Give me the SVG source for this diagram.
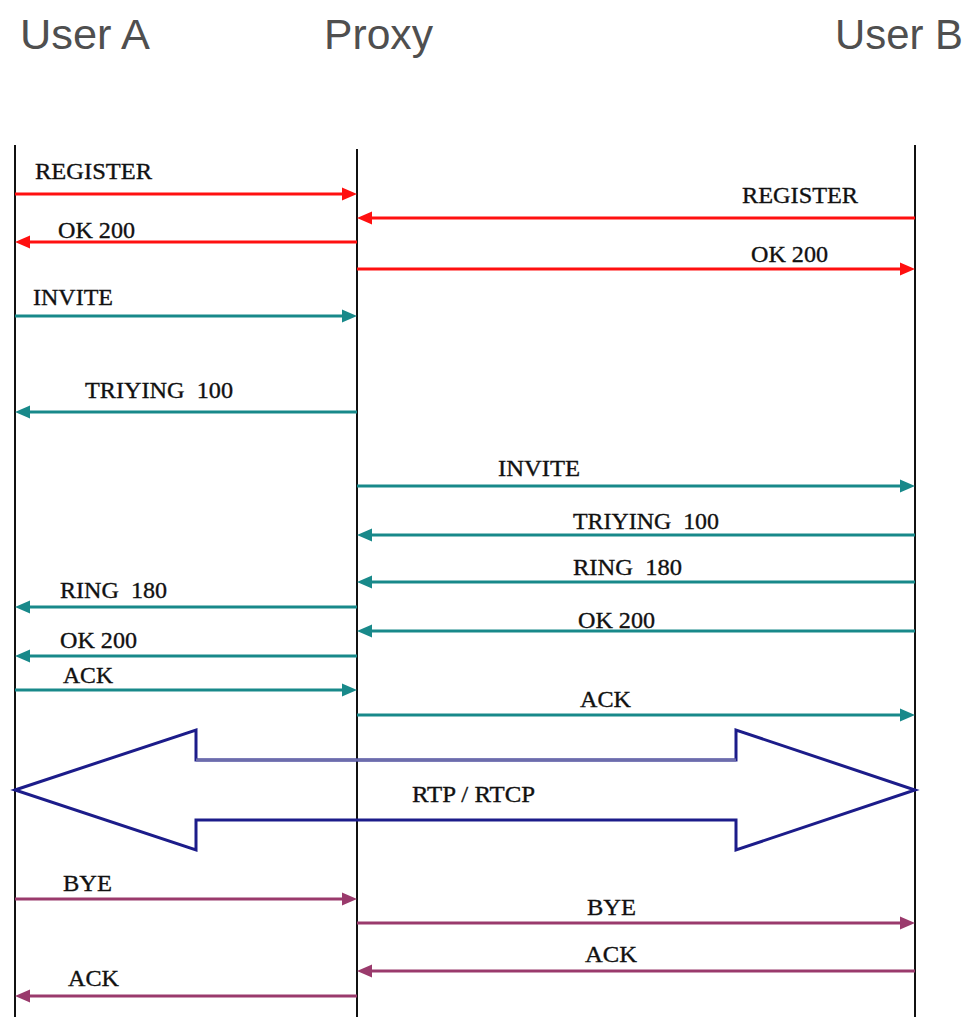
<svg xmlns="http://www.w3.org/2000/svg" width="969" height="1017" viewBox="0 0 969 1017">
  <style>
    .hdr { font-family: "Liberation Sans", Arial, sans-serif; font-size: 43px; fill: #4f4f4f; }
    .lbl { font-family: "Liberation Serif", "Times New Roman", serif; font-size: 23px; fill: #111; stroke: #111; stroke-width: 0.35; white-space: pre; }
    .life { stroke: #111; stroke-width: 2; }
    .msg { stroke-width: 3; fill: none; }
    .red { stroke: #ff1010; }
    .teal { stroke: #18898a; }
    .plum { stroke: #9a3a6c; }
  </style>
  <defs>
    <marker id="ah-red" markerUnits="userSpaceOnUse" markerWidth="16" markerHeight="14" refX="0" refY="7" orient="auto" overflow="visible">
      <path d="M0,0.5 L15,7 L0,13.5 z" fill="#ff1010"/>
    </marker>
    <marker id="ah-teal" markerUnits="userSpaceOnUse" markerWidth="16" markerHeight="14" refX="0" refY="7" orient="auto" overflow="visible">
      <path d="M0,0.5 L15,7 L0,13.5 z" fill="#18898a"/>
    </marker>
    <marker id="ah-plum" markerUnits="userSpaceOnUse" markerWidth="16" markerHeight="14" refX="0" refY="7" orient="auto" overflow="visible">
      <path d="M0,0.5 L15,7 L0,13.5 z" fill="#9a3a6c"/>
    </marker>
  </defs>

  <rect width="969" height="1017" fill="#fff"/>

  <!-- participants -->
  <g id="user-a">
    <text class="hdr" x="20" y="49" textLength="130" lengthAdjust="spacingAndGlyphs">User A</text>
    <line class="life" x1="15" y1="145" x2="15" y2="1017"/>
  </g>
  <g id="proxy">
    <text class="hdr" x="324" y="49" textLength="109" lengthAdjust="spacingAndGlyphs">Proxy</text>
    <line class="life" x1="357" y1="149" x2="357" y2="1017"/>
  </g>
  <g id="user-b">
    <text class="hdr" x="835" y="49" textLength="128" lengthAdjust="spacingAndGlyphs">User B</text>
    <line class="life" x1="915" y1="145" x2="915" y2="1017"/>
  </g>

  <!-- messages (line stops 15px short so the head lands on the lifeline) -->
  <g id="connectors">
    <!-- registration -->
    <line class="msg red" x1="15" y1="194" x2="342" y2="194" marker-end="url(#ah-red)"/>
    <line class="msg red" x1="915" y1="218" x2="372" y2="218" marker-end="url(#ah-red)"/>
    <line class="msg red" x1="357" y1="242" x2="30" y2="242" marker-end="url(#ah-red)"/>
    <line class="msg red" x1="357" y1="269" x2="900" y2="269" marker-end="url(#ah-red)"/>
    <!-- call setup -->
    <line class="msg teal" x1="15" y1="316" x2="342" y2="316" marker-end="url(#ah-teal)"/>
    <line class="msg teal" x1="357" y1="412" x2="30" y2="412" marker-end="url(#ah-teal)"/>
    <line class="msg teal" x1="357" y1="486" x2="900" y2="486" marker-end="url(#ah-teal)"/>
    <line class="msg teal" x1="915" y1="535" x2="372" y2="535" marker-end="url(#ah-teal)"/>
    <line class="msg teal" x1="915" y1="582" x2="372" y2="582" marker-end="url(#ah-teal)"/>
    <line class="msg teal" x1="357" y1="607" x2="30" y2="607" marker-end="url(#ah-teal)"/>
    <line class="msg teal" x1="915" y1="631" x2="372" y2="631" marker-end="url(#ah-teal)"/>
    <line class="msg teal" x1="357" y1="656" x2="30" y2="656" marker-end="url(#ah-teal)"/>
    <line class="msg teal" x1="15" y1="690" x2="342" y2="690" marker-end="url(#ah-teal)"/>
    <line class="msg teal" x1="357" y1="715" x2="900" y2="715" marker-end="url(#ah-teal)"/>
    <!-- media stream -->
    <polygon points="15,790 196,730 196,760 736,760 736,730 915,790 736,850 736,820 196,820 196,850" fill="none" stroke="#1c1c8a" stroke-width="3" stroke-linejoin="miter"/>
    <line x1="196" y1="760" x2="736" y2="760" stroke="#6c6cab" stroke-width="3"/>
    <!-- teardown -->
    <line class="msg plum" x1="15" y1="899" x2="342" y2="899" marker-end="url(#ah-plum)"/>
    <line class="msg plum" x1="357" y1="923" x2="900" y2="923" marker-end="url(#ah-plum)"/>
    <line class="msg plum" x1="915" y1="971" x2="372" y2="971" marker-end="url(#ah-plum)"/>
    <line class="msg plum" x1="357" y1="996" x2="30" y2="996" marker-end="url(#ah-plum)"/>
  </g>

  <!-- message labels -->
  <g id="labels">
    <text class="lbl" x="35" y="179" textLength="117" lengthAdjust="spacingAndGlyphs">REGISTER</text>
    <text class="lbl" x="742" y="203" textLength="116" lengthAdjust="spacingAndGlyphs">REGISTER</text>
    <text class="lbl" x="58" y="238" textLength="77" lengthAdjust="spacingAndGlyphs">OK 200</text>
    <text class="lbl" x="751" y="262" textLength="77" lengthAdjust="spacingAndGlyphs">OK 200</text>
    <text class="lbl" x="33" y="305" textLength="80" lengthAdjust="spacingAndGlyphs">INVITE</text>
    <text class="lbl" x="85" y="398" textLength="148" lengthAdjust="spacingAndGlyphs">TRIYING  100</text>
    <text class="lbl" x="498" y="476" textLength="82" lengthAdjust="spacingAndGlyphs">INVITE</text>
    <text class="lbl" x="573" y="529" textLength="146" lengthAdjust="spacingAndGlyphs">TRIYING  100</text>
    <text class="lbl" x="573" y="575" textLength="109" lengthAdjust="spacingAndGlyphs">RING  180</text>
    <text class="lbl" x="60" y="598" textLength="107" lengthAdjust="spacingAndGlyphs">RING  180</text>
    <text class="lbl" x="578" y="628" textLength="77" lengthAdjust="spacingAndGlyphs">OK 200</text>
    <text class="lbl" x="60" y="648" textLength="77" lengthAdjust="spacingAndGlyphs">OK 200</text>
    <text class="lbl" x="63" y="683" textLength="50" lengthAdjust="spacingAndGlyphs">ACK</text>
    <text class="lbl" x="580" y="707" textLength="51" lengthAdjust="spacingAndGlyphs">ACK</text>
    <text class="lbl" x="412" y="802" textLength="123" lengthAdjust="spacingAndGlyphs">RTP / RTCP</text>
    <text class="lbl" x="63" y="891" textLength="49" lengthAdjust="spacingAndGlyphs">BYE</text>
    <text class="lbl" x="587" y="915" textLength="49" lengthAdjust="spacingAndGlyphs">BYE</text>
    <text class="lbl" x="585" y="962" textLength="52" lengthAdjust="spacingAndGlyphs">ACK</text>
    <text class="lbl" x="68" y="986" textLength="51" lengthAdjust="spacingAndGlyphs">ACK</text>
  </g>
</svg>
